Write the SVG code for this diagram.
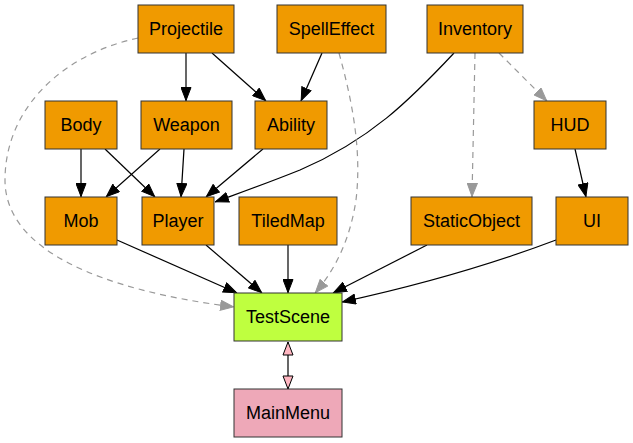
<svg xmlns="http://www.w3.org/2000/svg" width="633" height="443" viewBox="0 0 633 443">
<style>
.n rect{fill:#F09A00;stroke:#333;stroke-width:1}
.n text{font-family:"Liberation Sans",Arial,sans-serif;font-size:18px;text-anchor:middle;fill:#000}
.e path{fill:none;stroke:#000;stroke-width:1.2}
.e path.d{stroke:#999;stroke-dasharray:6,5}
</style>
<defs>
<marker id="a" viewBox="0 0 14 11" refX="14" refY="5.5" markerWidth="14" markerHeight="11" markerUnits="userSpaceOnUse" orient="auto"><path d="M0.5,0.5 L13.5,5.5 L0.5,10.5 z" fill="#000" stroke="#000" stroke-width="1"/></marker>
<marker id="g" viewBox="0 0 14 11" refX="14" refY="5.5" markerWidth="14" markerHeight="11" markerUnits="userSpaceOnUse" orient="auto"><path d="M0.5,0.5 L13.5,5.5 L0.5,10.5 z" fill="#999" stroke="#999" stroke-width="1"/></marker>
<marker id="k" viewBox="-1 -1 15 12" refX="13" refY="5" markerWidth="15" markerHeight="12" markerUnits="userSpaceOnUse" orient="auto-start-reverse"><path d="M0,0 L13,5 L0,10 z" fill="#FFB6C1" stroke="#000" stroke-width="1"/></marker>
</defs>
<g class="e" id="edges">
<path d="M186,53 L186,101" marker-end="url(#a)"/>
<path d="M212,53 L266,101" marker-end="url(#a)"/>
<path d="M322,53 L301,101" marker-end="url(#a)"/>
<path d="M454,53 C410,100 370,140 300,170 C265,184 245,191 215,202" marker-end="url(#a)"/>
<path class="d" d="M475,53 L472,197" marker-end="url(#g)"/>
<path class="d" d="M499,53 L547,101" marker-end="url(#g)"/>
<path d="M575,149 L586,197" marker-end="url(#a)"/>
<path d="M81,149 L81,197" marker-end="url(#a)"/>
<path d="M105,149 L155,197" marker-end="url(#a)"/>
<path d="M160,149 L106,197" marker-end="url(#a)"/>
<path d="M184,149 L181,197" marker-end="url(#a)"/>
<path d="M263,149 L206,197" marker-end="url(#a)"/>
<path d="M117,240 L237,293" marker-end="url(#a)"/>
<path d="M206,245 L262,293" marker-end="url(#a)"/>
<path d="M288,245 L288,293" marker-end="url(#a)"/>
<path d="M427,245 L333,293" marker-end="url(#a)"/>
<path d="M556,240 C490,265 420,285 342,302" marker-end="url(#a)"/>
<path class="d" d="M138,38 C60,55 5,110 5,180 C5,250 100,290 234,307" marker-end="url(#g)"/>
<path class="d" d="M339,53 C352,100 362,150 356,200 C350,240 335,270 315,293" marker-end="url(#g)"/>
<path d="M288,342 L288,389" marker-start="url(#k)" marker-end="url(#k)"/>
</g>
<g class="n" id="Projectile"><rect x="138" y="5" width="96" height="48"/><text x="186" y="35">Projectile</text></g>
<g class="n" id="SpellEffect"><rect x="277" y="5" width="109" height="48"/><text x="331.5" y="35">SpellEffect</text></g>
<g class="n" id="Inventory"><rect x="427" y="5" width="96" height="48"/><text x="475" y="35">Inventory</text></g>
<g class="n" id="Body"><rect x="45" y="101" width="72" height="48"/><text x="81" y="131">Body</text></g>
<g class="n" id="Weapon"><rect x="141" y="101" width="91" height="48"/><text x="186.5" y="131">Weapon</text></g>
<g class="n" id="Ability"><rect x="255" y="101" width="72" height="48"/><text x="291" y="131">Ability</text></g>
<g class="n" id="HUD"><rect x="534" y="101" width="72" height="48"/><text x="570" y="131">HUD</text></g>
<g class="n" id="Mob"><rect x="45" y="197" width="72" height="48"/><text x="81" y="227">Mob</text></g>
<g class="n" id="Player"><rect x="142" y="197" width="72" height="48"/><text x="178" y="227">Player</text></g>
<g class="n" id="TiledMap"><rect x="239" y="197" width="98" height="48"/><text x="288" y="227">TiledMap</text></g>
<g class="n" id="StaticObject"><rect x="411" y="197" width="121" height="48"/><text x="471.5" y="227">StaticObject</text></g>
<g class="n" id="UI"><rect x="556" y="197" width="72" height="48"/><text x="592" y="227">UI</text></g>
<g class="n" id="TestScene"><rect x="234" y="293" width="108" height="48" style="fill:#BFFF3F"/><text x="288" y="323">TestScene</text></g>
<g class="n" id="MainMenu"><rect x="234" y="389" width="108" height="48" style="fill:#EEA8B8"/><text x="288" y="419">MainMenu</text></g>
</svg>
